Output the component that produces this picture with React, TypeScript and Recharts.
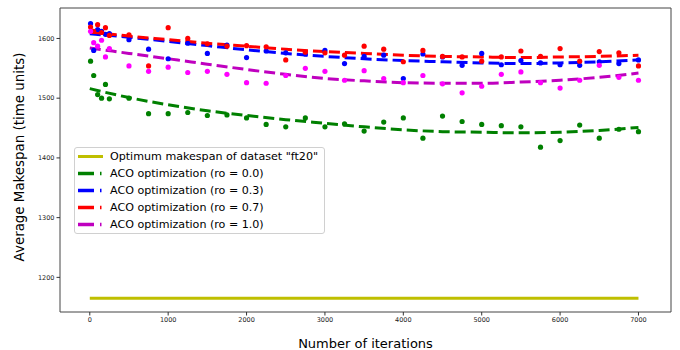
import React from 'react';
import { ComposedChart, Scatter, Line, XAxis, YAxis, ReferenceArea } from 'recharts';

const iterations = [10, 50, 100, 150, 200, 250, 500, 750, 1000, 1250, 1500, 1750, 2000, 2250, 2500, 2750, 3000, 3250, 3500, 3750, 4000, 4250, 4500, 4750, 5000, 5250, 5500, 5750, 6000, 6250, 6500, 6750, 7000];

const ro00 = [1562, 1538, 1506, 1500, 1523, 1499, 1500, 1474, 1474, 1476, 1471, 1472, 1467, 1456, 1452, 1467, 1452, 1457, 1445, 1460, 1467, 1433, 1470, 1461, 1456, 1454, 1452, 1418, 1429, 1455, 1433, 1448, 1444];
const ro03 = [1625, 1580, 1615, 1612, 1607, 1608, 1598, 1582, 1566, 1592, 1575, 1589, 1568, 1579, 1576, 1574, 1580, 1558, 1570, 1572, 1533, 1574, 1569, 1555, 1575, 1556, 1563, 1559, 1556, 1555, 1561, 1558, 1564];
const ro07 = [1619, 1612, 1623, 1610, 1618, 1605, 1606, 1554, 1618, 1600, 1591, 1587, 1588, 1586, 1564, 1577, 1576, 1572, 1587, 1582, 1561, 1580, 1570, 1569, 1562, 1569, 1579, 1570, 1583, 1562, 1578, 1576, 1554];
const ro10 = [1612, 1593, 1587, 1597, 1569, 1583, 1554, 1545, 1552, 1543, 1545, 1540, 1526, 1525, 1538, 1550, 1545, 1530, 1546, 1533, 1526, 1538, 1524, 1509, 1520, 1540, 1544, 1526, 1517, 1530, 1555, 1535, 1530];

const trendIterations = [0, 500, 1000, 1500, 2000, 2500, 3000, 3500, 4000, 4500, 5000, 5500, 6000, 6500, 7000];
const trend00 = [1516, 1501, 1489, 1479, 1471, 1464, 1458, 1452, 1447, 1444, 1443, 1442, 1443, 1446, 1451];
const trend03 = [1608, 1602, 1595, 1588, 1581, 1575, 1570, 1566, 1563, 1561, 1559, 1558, 1559, 1561, 1564];
const trend07 = [1611, 1604, 1598, 1592, 1587, 1582, 1578, 1575, 1572, 1570, 1569, 1568, 1569, 1570, 1572];
const trend10 = [1584, 1575, 1566, 1557, 1548, 1540, 1533, 1529, 1526, 1525, 1525, 1527, 1530, 1535, 1542];

const optimumIterations = [0, 7000];
const optimumValue = 1165;

const xTicks = [0, 1000, 2000, 3000, 4000, 5000, 6000, 7000];
const yTicks = [1200, 1300, 1400, 1500, 1600];
const xDomain = [-380, 7415];
const yDomain = [1142, 1651];

const legendLabels = [
  'Optimum makespan of dataset "ft20"',
  'ACO optimization (ro = 0.0)',
  'ACO optimization (ro = 0.3)',
  'ACO optimization (ro = 0.7)',
  'ACO optimization (ro = 1.0)',
];

const toPoints = (xs: number[], ys: number[]) => xs.map((x, i) => ({ x, y: ys[i] }));

const optimumData = optimumIterations.map((x) => ({ x, y: optimumValue }));

const series = [
  { name: legendLabels[1], pts: toPoints(iterations, ro00), trend: toPoints(trendIterations, trend00), dot: '#008000', line: '#008000' },
  { name: legendLabels[2], pts: toPoints(iterations, ro03), trend: toPoints(trendIterations, trend03), dot: '#0000ff', line: '#0000ff' },
  { name: legendLabels[3], pts: toPoints(iterations, ro07), trend: toPoints(trendIterations, trend07), dot: '#ff0000', line: '#ff0000' },
  { name: legendLabels[4], pts: toPoints(iterations, ro10), trend: toPoints(trendIterations, trend10), dot: '#ff00ff', line: '#bf00bf' },
];

const FONT = '"DejaVu Sans", sans-serif';

const LegendBox = () => (
  <div
    style={{
      position: 'absolute',
      left: 74,
      top: 147,
      width: 251,
      height: 87,
      border: '1px solid #d0d0d0',
      borderRadius: 3,
      background: 'rgba(255,255,255,0.85)',
      fontFamily: FONT,
      fontSize: 11.1,
      color: '#000',
      boxSizing: 'border-box',
      paddingTop: 0,
    }}
  >
    {legendLabels.map((label, i) => (
      <div key={label} style={{ height: 17, display: 'flex', alignItems: 'center', whiteSpace: 'nowrap' }}>
        <svg width={35} height={17} style={{ flex: 'none' }}>
          {i === 0 ? (
            <line x1={3} x2={28} y1={8.5} y2={8.5} stroke="#bfbf00" strokeWidth={3} />
          ) : (
            <>
              <line x1={3} x2={19} y1={8.5} y2={8.5} stroke={series[i - 1].line} strokeWidth={3.5} />
              <line x1={25} x2={26.5} y1={8.5} y2={8.5} stroke={series[i - 1].line} strokeWidth={3.5} />
            </>
          )}
        </svg>
        <span>{label}</span>
      </div>
    ))}
  </div>
);

const Dot = (color: string) => (props: any) => (
  <circle cx={props.cx} cy={props.cy} r={2.6} fill={color} />
);

export default function App() {
  return (
    <div style={{ position: 'absolute', left: 0, top: 0, width: 680, height: 350, background: '#fff', fontFamily: FONT }}>
      <ComposedChart width={680} height={350} margin={{ top: 8, right: 9, bottom: 0, left: 0 }}>
        <XAxis
          dataKey="x"
          type="number"
          domain={xDomain}
          ticks={xTicks}
          allowDataOverflow
          axisLine={false}
          tickSize={3.5}
          tickLine={{ stroke: '#333' }}
          tick={{ fontSize: 6.5, fill: '#222', fontFamily: FONT }}
          height={38}
          label={{ value: 'Number of iterations', position: 'center', dy: 12, style: { fontSize: 13, fill: '#000', fontFamily: FONT } }}
        />
        <YAxis
          dataKey="y"
          type="number"
          domain={yDomain}
          ticks={yTicks}
          allowDataOverflow
          axisLine={false}
          tickSize={3.5}
          tickLine={{ stroke: '#333' }}
          tick={{ fontSize: 6.5, fill: '#222', fontFamily: FONT }}
          width={60}
          label={{ value: 'Average Makespan (time units)', angle: -90, position: 'center', dx: -11, dy: -3, style: { fontSize: 13.4, fill: '#000', fontFamily: FONT, textAnchor: 'middle' } }}
        />
        <ReferenceArea x1={xDomain[0]} x2={xDomain[1]} y1={yDomain[0]} y2={yDomain[1]} fill="none" stroke="#444" strokeWidth={1} ifOverflow="visible" />
        <Line data={optimumData} dataKey="y" stroke="#bfbf00" strokeWidth={3} dot={false} isAnimationActive={false} legendType="none" />
        {series.map((s) => (
          <Scatter key={'s' + s.name} data={s.pts} dataKey="y" fill={s.dot} shape={Dot(s.dot)} isAnimationActive={false} legendType="none" />
        ))}
        {series.map((s) => (
          <Line
            key={'l' + s.name}
            data={s.trend}
            dataKey="y"
            type="monotone"
            stroke={s.line}
            strokeWidth={3}
            strokeDasharray="11 5"
            dot={false}
            isAnimationActive={false}
            legendType="none"
          />
        ))}
      </ComposedChart>
      <LegendBox />
    </div>
  );
}
